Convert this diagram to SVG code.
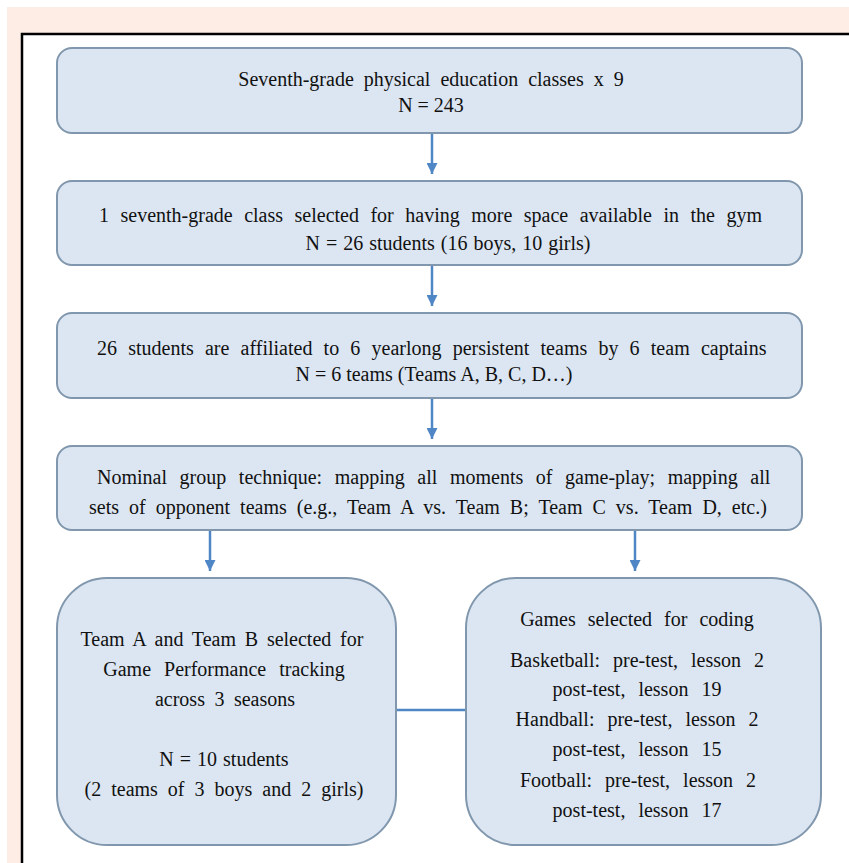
<svg xmlns="http://www.w3.org/2000/svg" width="849" height="863" viewBox="0 0 849 863">
<defs>
<style>
.box{fill:#dce6f2;stroke:#8197ad;stroke-width:2}
.t{font-family:"Liberation Serif","Times New Roman",serif;font-size:20px;fill:#111}
.c{text-anchor:middle}
.ln{stroke:#4f87c6;stroke-width:2.5;fill:none}
</style>
<marker id="ah" viewBox="0 0 10 10" refX="10" refY="5" markerWidth="4.4" markerHeight="4.4" orient="auto" markerUnits="strokeWidth">
<path d="M0,0 L10,5 L0,10 z" fill="#4f87c6"/>
</marker>
</defs>
<rect x="0" y="0" width="849" height="863" fill="#ffffff"/>
<rect x="7" y="7" width="842" height="856" fill="#fdede4"/>
<rect x="22" y="34" width="827" height="829" fill="#ffffff"/>
<path d="M22,863 V34 H849" fill="none" stroke="#000" stroke-width="2.5"/>
<g id="connectors">
<line class="ln" x1="432" y1="134" x2="432" y2="174" marker-end="url(#ah)"/>
<line class="ln" x1="432" y1="266" x2="432" y2="306" marker-end="url(#ah)"/>
<line class="ln" x1="432" y1="399" x2="432" y2="439" marker-end="url(#ah)"/>
<line class="ln" x1="210" y1="531" x2="210" y2="571" marker-end="url(#ah)"/>
<line class="ln" x1="635" y1="531" x2="635" y2="571" marker-end="url(#ah)"/>
<line class="ln" x1="397" y1="710" x2="466" y2="710"/>
</g>
<g id="n1">
<rect class="box" x="57" y="48" width="745" height="85" rx="15"/>
<text class="t c" x="431" y="86" font-size="21" word-spacing="5">Seventh-grade physical education classes x 9</text>
<text class="t c" x="431" y="112">N = 243</text>
</g>
<g id="n2">
<rect class="box" x="57" y="181" width="745" height="84" rx="15"/>
<text class="t" x="99" y="222" word-spacing="6.5">1 seventh-grade class selected for having more space available in the gym</text>
<text class="t c" x="448" y="250" word-spacing="1">N = 26 students (16 boys, 10 girls)</text>
</g>
<g id="n3">
<rect class="box" x="57" y="313" width="745" height="85" rx="15"/>
<text class="t" x="97" y="355" word-spacing="6.2">26 students are affiliated to 6 yearlong persistent teams by 6 team captains</text>
<text class="t c" x="434" y="381">N = 6 teams (Teams A, B, C, D…)</text>
</g>
<g id="n4">
<rect class="box" x="57" y="446" width="745" height="84" rx="15"/>
<text class="t" x="97" y="484" word-spacing="7.6">Nominal group technique: mapping all moments of game-play; mapping all</text>
<text class="t" x="89" y="514" word-spacing="5">sets of opponent teams (e.g., Team A vs. Team B; Team C vs. Team D, etc.)</text>
</g>
<g id="n5">
<rect class="box" x="57" y="578" width="339" height="267" rx="50"/>
<text class="t c" x="222" y="646" word-spacing="3.8">Team A and Team B selected for</text>
<text class="t c" x="224" y="676" word-spacing="8">Game Performance tracking</text>
<text class="t c" x="225" y="706" word-spacing="4.5">across 3 seasons</text>
<text class="t c" x="224" y="766" word-spacing="1">N = 10 students</text>
<text class="t c" x="224" y="796" word-spacing="5">(2 teams of 3 boys and 2 girls)</text>
</g>
<g id="n6">
<rect class="box" x="466" y="578" width="355" height="267" rx="50"/>
<text class="t c" x="637" y="626" word-spacing="7">Games selected for coding</text>
<text class="t c" x="637" y="667" word-spacing="8">Basketball: pre-test, lesson 2</text>
<text class="t c" x="637" y="696" word-spacing="8">post-test, lesson 19</text>
<text class="t c" x="637" y="726" word-spacing="8">Handball: pre-test, lesson 2</text>
<text class="t c" x="637" y="756" word-spacing="8">post-test, lesson 15</text>
<text class="t c" x="638" y="787" word-spacing="8">Football: pre-test, lesson 2</text>
<text class="t c" x="637" y="817" word-spacing="8">post-test, lesson 17</text>
</g>
</svg>
